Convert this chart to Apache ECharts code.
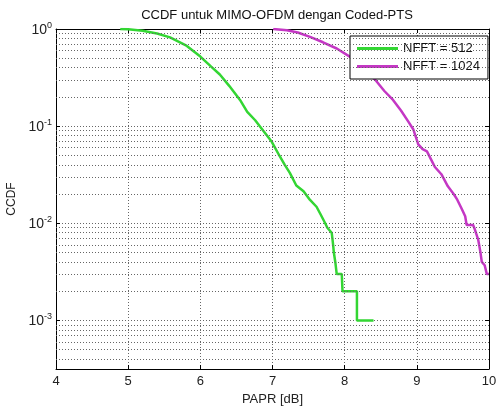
<!DOCTYPE html>
<html>
<head>
<meta charset="utf-8">
<script src="https://cdn.jsdelivr.net/npm/echarts@6/dist/echarts.min.js"></script>
<style>
html,body{margin:0;padding:0;background:#fff;}
#chart{width:497px;height:406px;}
</style>
</head>
<body>
<div id="chart"></div>
<script>
// PAPR [dB] and CCDF values
const papr512 = [4.89, 5.0, 5.2, 5.4, 5.58, 5.8, 6.0, 6.15, 6.27, 6.4, 6.55, 6.65, 6.76, 6.88, 6.99, 7.10, 7.17, 7.24, 7.33, 7.43, 7.52, 7.61, 7.66, 7.73, 7.76, 7.82, 7.83, 7.84, 7.85, 7.87, 7.89, 7.96, 7.97, 8.17, 8.17, 8.40];
const ccdf512 = [1.0, 0.995, 0.96, 0.90, 0.82, 0.68, 0.52, 0.41, 0.34, 0.26, 0.186, 0.14, 0.115, 0.088, 0.069, 0.049, 0.040, 0.033, 0.0245, 0.0214, 0.0174, 0.0148, 0.0126, 0.010, 0.009, 0.008, 0.007, 0.006, 0.005, 0.004, 0.003, 0.003, 0.002, 0.002, 0.001, 0.001];

const papr1024 = [7.01, 7.2, 7.35, 7.52, 7.7, 7.89, 8.07, 8.25, 8.44, 8.55, 8.67, 8.78, 8.88, 8.95, 9.02, 9.08, 9.14, 9.2, 9.25, 9.34, 9.43, 9.51, 9.56, 9.62, 9.67, 9.69, 9.78, 9.80, 9.85, 9.88, 9.90, 9.94, 9.97, 10.0];
const ccdf1024 = [1.0, 0.97, 0.92, 0.83, 0.73, 0.63, 0.52, 0.40, 0.29, 0.23, 0.186, 0.145, 0.112, 0.093, 0.065, 0.058, 0.055, 0.045, 0.038, 0.032, 0.024, 0.020, 0.0175, 0.0142, 0.0118, 0.0096, 0.0096, 0.0088, 0.0068, 0.0051, 0.0040, 0.0037, 0.0030, 0.0030];

const seriesNames = ['NFFT = 512', 'NFFT = 1024'];
const seriesColors = ['#33d633', '#c437c4'];
const xMin = 4, xMax = 10;
const yMin = Math.pow(10, -3.5);
const minorGridValues = [];
[-4, -3, -2, -1].forEach(function (d) {
  for (let m = 2; m <= 9; m++) {
    const v = m * Math.pow(10, d);
    if (v > yMin) minorGridValues.push(v);
  }
});

const font = 'Liberation Sans, Arial, sans-serif';
const gridDot = { color: '#666', width: 1, type: [1, 2] };

function pairs(xs, ys) { return xs.map(function (x, i) { return [x, ys[i]]; }); }

const chart = echarts.init(document.getElementById('chart'), null, { renderer: 'canvas' });
chart.setOption({
  animation: false,
  backgroundColor: '#fff',
  textStyle: { fontFamily: font },
  title: {
    text: 'CCDF untuk MIMO-OFDM dengan Coded-PTS',
    left: 272, top: 4, textAlign: 'center',
    textStyle: { fontFamily: font, fontSize: 13, fontWeight: 'normal', color: '#111' }
  },
  grid: { left: 56, right: 8, top: 29, bottom: 37, outerBoundsMode: 'none', containLabel: false },
  legend: {
    orient: 'vertical', left: 350, top: 36,
    padding: [6, 8, 6, 7], itemGap: 5, itemWidth: 41, itemHeight: 3,
    icon: 'rect',
    borderColor: '#000', borderWidth: 1, backgroundColor: '#fff',
    textStyle: { fontFamily: font, fontSize: 13, color: '#111' },
    data: seriesNames
  },
  xAxis: [{
    type: 'value', min: xMin, max: xMax, interval: 1,
    name: 'PAPR [dB]', nameLocation: 'middle', nameGap: 22,
    nameTextStyle: { fontFamily: font, fontSize: 13, color: '#222' },
    axisLine: { lineStyle: { color: '#000', width: 1 } },
    axisTick: { inside: true, length: 4, lineStyle: { color: '#000' } },
    axisLabel: { fontFamily: font, fontSize: 13, color: '#222', margin: 6 },
    splitLine: { show: true, lineStyle: gridDot }
  }, {
    type: 'value', min: xMin, max: xMax, interval: 1, position: 'top',
    axisLine: { lineStyle: { color: '#000', width: 1 } },
    axisTick: { inside: true, length: 4, lineStyle: { color: '#000' } },
    axisLabel: { show: false }, splitLine: { show: false }
  }],
  yAxis: [{
    type: 'log', logBase: 10, min: yMin, max: 1,
    name: 'CCDF', nameLocation: 'middle', nameGap: 36, nameRotate: 90,
    nameTextStyle: { fontFamily: font, fontSize: 12, color: '#222' },
    axisLine: { show: true, lineStyle: { color: '#000', width: 1 } },
    axisTick: { inside: true, length: 4, lineStyle: { color: '#000' } },
    axisLabel: {
      fontFamily: font, margin: 4, color: '#222',
      formatter: function (v) {
        const e = Math.log10(v);
        if (Math.abs(e - Math.round(e)) > 1e-6) return '';
        return '{b|10}{s|' + Math.round(e) + '}';
      },
      rich: {
        b: { fontFamily: font, fontSize: 14, color: '#222', lineHeight: 16, verticalAlign: 'bottom' },
        s: { fontFamily: font, fontSize: 9, color: '#222', lineHeight: 16, verticalAlign: 'top', padding: [0, 0, 7, 0] }
      }
    },
    splitLine: { show: true, lineStyle: gridDot }
  }, {
    type: 'log', logBase: 10, min: yMin, max: 1, position: 'right',
    axisLine: { show: true, lineStyle: { color: '#000', width: 1 } },
    axisTick: { inside: true, length: 4, lineStyle: { color: '#000' } },
    axisLabel: { show: false }, splitLine: { show: false }
  }],
  series: [{
    type: 'line', name: '_grid', data: [[xMin, 1]], symbol: 'none', lineStyle: { opacity: 0 },
    z: 1, silent: true,
    markLine: {
      silent: true, symbol: ['none', 'none'], label: { show: false },
      lineStyle: gridDot, animation: false,
      data: minorGridValues.map(function (v) {
        return [{ coord: [xMin, v] }, { coord: [xMax, v] }];
      })
    }
  }, {
    type: 'line', name: seriesNames[0], data: pairs(papr512, ccdf512),
    showSymbol: false, symbol: 'none', z: 3,
    lineStyle: { color: seriesColors[0], width: 2.5 }, itemStyle: { color: seriesColors[0] }
  }, {
    type: 'line', name: seriesNames[1], data: pairs(papr1024, ccdf1024),
    showSymbol: false, symbol: 'none', z: 3,
    lineStyle: { color: seriesColors[1], width: 2.5 }, itemStyle: { color: seriesColors[1] }
  }]
});
</script>
</body>
</html>
